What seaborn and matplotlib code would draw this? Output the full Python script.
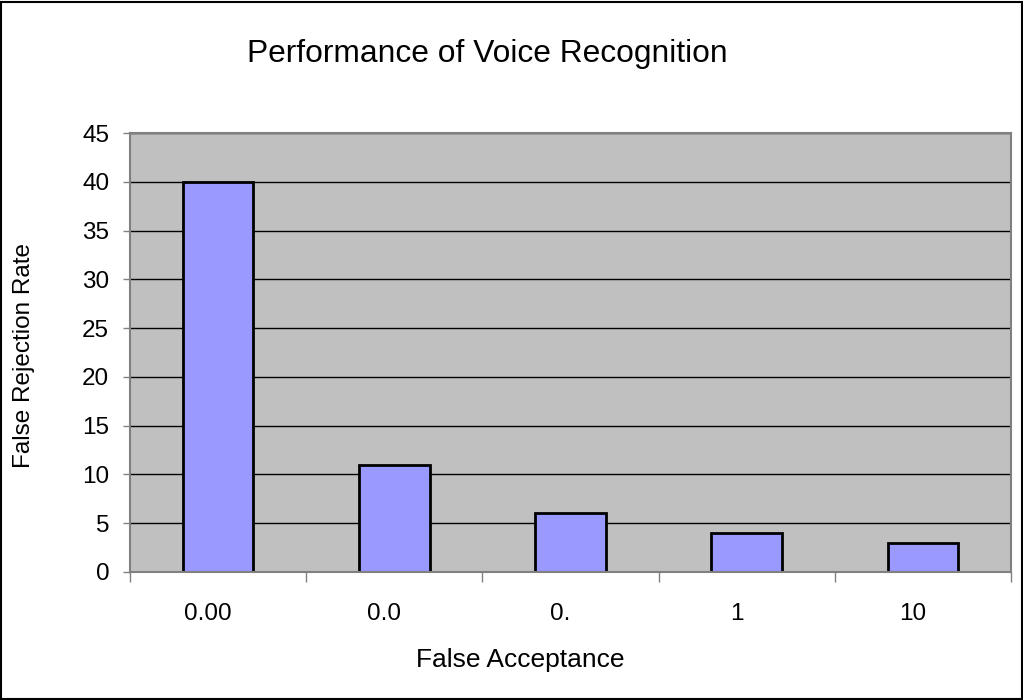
import matplotlib
matplotlib.use("Agg")
import matplotlib.pyplot as plt
import matplotlib.transforms as mtransforms
import seaborn as sns
import pandas as pd
from matplotlib.patches import Rectangle

categories = ["0.00", "0.0", "0.", "1", "10"]
values = [40, 11, 6, 4, 3]
yticks = [0, 5, 10, 15, 20, 25, 30, 35, 40, 45]

title = "Performance of Voice Recognition"
xlabel = "False Acceptance"
ylabel = "False Rejection Rate"

sns.set_theme(style="white")
plt.rcParams['font.family'] = ['Liberation Sans', 'DejaVu Sans']

df = pd.DataFrame({"cat": categories, "val": values})

W, H = 1023, 700
fig = plt.figure(figsize=(W/100, H/100), dpi=100)
L, R, T, B = 130, 1011, 133, 572
ax = fig.add_axes([L/W, 1-B/H, (R-L)/W, (B-T)/H])
ax.set_facecolor("#C0C0C0")

sns.barplot(data=df, x="cat", y="val", ax=ax, color="#9999FF", width=0.4,
            edgecolor="black", linewidth=2, saturation=1)

ax.set_ylim(0, 45)
ax.set_xlim(-0.5, len(categories)-0.5)
ax.set_yticks(yticks)
ax.yaxis.grid(True, color="black", linewidth=1)
ax.set_axisbelow(True)
for s in ax.spines.values():
    s.set_color("#808080")
    s.set_linewidth(1.5)

ax.tick_params(axis="y", which="major", direction="out", length=5, width=1, color="#808080",
               labelsize=17.5, pad=10, left=True)
ax.tick_params(axis="x", which="major", length=0, labelsize=17.5, pad=22)
ax.set_xticks(range(len(categories)))
ax.set_xticklabels(categories)
ax.set_xticks([i + 0.5 for i in range(-1, len(categories))], minor=True)
ax.tick_params(axis="x", which="minor", direction="out", length=7, width=1, color="#808080", bottom=True)

shift = mtransforms.ScaledTranslation(-10/100, 0, fig.dpi_scale_trans)
for lbl in ax.get_xticklabels():
    lbl.set_transform(lbl.get_transform() + shift)
for lbl in ax.get_xticklabels() + ax.get_yticklabels():
    lbl.set_color("black")

ax.set_xlabel(xlabel, fontsize=19, color="black")
ax.xaxis.set_label_coords((520-L)/(R-L), (B-(660))/(B-T))
ax.xaxis.label.set_va("center")
ax.set_ylabel(ylabel, fontsize=17.5, color="black")
ax.yaxis.set_label_coords((24-L)/(R-L), 0.5 + (352-355)/(B-T))
ax.yaxis.label.set_va("center")

fig.text(487.5/W, 1-62/H, title, ha="center", va="baseline", fontsize=22.9, color="black")

fig.patches.append(Rectangle((1/W, 1/H), 1-2/W, 1-3/H, transform=fig.transFigure,
                             fill=False, edgecolor="black", linewidth=1.5))

fig.savefig("out.png", dpi=100, facecolor="white")
